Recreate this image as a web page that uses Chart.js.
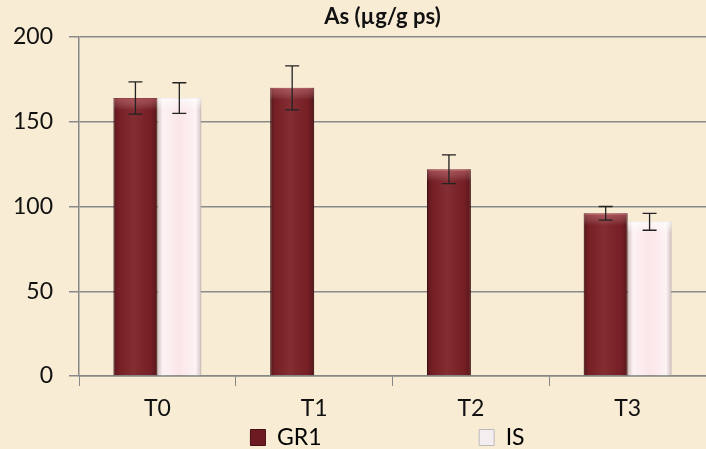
<!DOCTYPE html>
<html>
<head>
<meta charset="utf-8">
<script src="https://cdn.jsdelivr.net/npm/chart.js@4/dist/chart.umd.min.js"></script>
<style>
  html, body { margin: 0; padding: 0; background: #f8ecd4; }
  #wrap { width: 706px; height: 449px; }
</style>
</head>
<body>
<div id="wrap"><canvas id="asChart" width="706" height="449"></canvas></div>
<script>
const labels = ['T0', 'T1', 'T2', 'T3'];
const gr1Values = [164, 170, 122, 96];
const isValues = [164, null, null, 91];
const gr1Errors = [9.5, 13, 8.5, 4];
const isErrors = [9, null, null, 5];
const yTicks = [0, 50, 100, 150, 200];

const FONT = 'Lato, "Open Sans", sans-serif';

// 3D-ish shading on each bar
const barShade = {
    id: 'barShade',
    afterDatasetsDraw(chart) {
        const ctx = chart.ctx;
        chart.data.datasets.forEach((ds, i) => {
            const meta = chart.getDatasetMeta(i);
            meta.data.forEach((bar, j) => {
                if (ds.data[j] == null) return;
                const left = bar.x - bar.width / 2;
                const right = bar.x + bar.width / 2;
                const top = bar.y;
                const bottom = bar.base;
                const g = ctx.createLinearGradient(left, 0, right, 0);
                if (i === 0) {
                    g.addColorStop(0, 'rgba(0,0,0,0.30)');
                    g.addColorStop(0.12, 'rgba(0,0,0,0.05)');
                    g.addColorStop(0.45, 'rgba(255,255,255,0.06)');
                    g.addColorStop(0.85, 'rgba(0,0,0,0.05)');
                    g.addColorStop(1, 'rgba(0,0,0,0.30)');
                } else {
                    g.addColorStop(0, 'rgba(150,140,140,0.35)');
                    g.addColorStop(0.12, 'rgba(255,255,255,0.5)');
                    g.addColorStop(0.5, 'rgba(255,255,255,0)');
                    g.addColorStop(0.88, 'rgba(255,255,255,0.5)');
                    g.addColorStop(1, 'rgba(150,140,140,0.35)');
                }
                ctx.save();
                ctx.fillStyle = g;
                ctx.fillRect(left, top, right - left, bottom - top);
                const t = ctx.createLinearGradient(0, top, 0, top + 12);
                t.addColorStop(0, i === 0 ? 'rgba(255,150,160,0.35)' : 'rgba(255,255,255,0.7)');
                t.addColorStop(1, 'rgba(255,255,255,0)');
                ctx.fillStyle = t;
                ctx.fillRect(left, top, right - left, 12);
                ctx.restore();
            });
        });
    }
};

const errorBars = {
    id: 'errorBars',
    afterDatasetsDraw(chart) {
        const ctx = chart.ctx;
        const y = chart.scales.y;
        const errs = [gr1Errors, isErrors];
        chart.data.datasets.forEach((ds, i) => {
            const meta = chart.getDatasetMeta(i);
            meta.data.forEach((bar, j) => {
                const v = ds.data[j];
                const e = errs[i][j];
                if (v == null || e == null) return;
                const yHi = y.getPixelForValue(v + e);
                const yLo = y.getPixelForValue(v - e);
                const cap = 7;
                ctx.save();
                ctx.strokeStyle = '#222';
                ctx.lineWidth = 1.3;
                ctx.beginPath();
                ctx.moveTo(bar.x, yHi); ctx.lineTo(bar.x, yLo);
                ctx.moveTo(bar.x - cap, yHi); ctx.lineTo(bar.x + cap, yHi);
                ctx.moveTo(bar.x - cap, yLo); ctx.lineTo(bar.x + cap, yLo);
                ctx.stroke();
                ctx.restore();
            });
        });
    }
};

// title and legend sit roughly over the plot area rather than the canvas centre
const shiftBlocks = {
    id: 'shiftBlocks',
    afterLayout(chart) {
        const dx = (chart.chartArea.left + chart.chartArea.right) / 2 - chart.width / 2;
        chart.titleBlock.left += dx - 10;
        chart.titleBlock.right += dx - 10;
        chart.legend.left += dx - 5;
        chart.legend.right += dx - 5;
    }
};

new Chart(document.getElementById('asChart'), {
    type: 'bar',
    data: {
        labels: labels,
        datasets: [
            {
                label: 'GR1',
                data: gr1Values,
                backgroundColor: '#7c2127',
                borderColor: '#5c171b',
                borderWidth: 1,
                categoryPercentage: 0.56,
                barPercentage: 1.0
            },
            {
                label: 'IS',
                data: isValues,
                backgroundColor: '#fbe6e8',
                borderColor: '#c9c2c3',
                borderWidth: 1,
                categoryPercentage: 0.56,
                barPercentage: 1.0
            }
        ]
    },
    options: {
        responsive: false,
        animation: false,
        layout: { padding: { top: 0, left: 0, right: 0, bottom: -10 } },
        plugins: {
            title: {
                display: true,
                text: 'As (µg/g ps)',
                color: '#111',
                font: { family: FONT, size: 22, weight: 'bold' },
                padding: { top: 4, bottom: 6.6 }
            },
            legend: {
                position: 'bottom',
                labels: {
                    color: '#111',
                    font: { family: FONT, size: 23, lineHeight: 1.0 },
                    boxWidth: 15,
                    boxHeight: 16,
                    padding: 2,
                    generateLabels(chart) {
                        return chart.data.datasets.map((ds, i) => ({
                            text: ds.label + (i === 0 ? '\u2003\u2003\u2003\u2003\u2003\u2003\u2003\u2003   ' : ''),
                            fillStyle: i === 0 ? '#6e1a22' : '#f4eef0',
                            strokeStyle: i === 0 ? '#4a0f14' : '#bbb',
                            lineWidth: 1,
                            datasetIndex: i
                        }));
                    }
                }
            },
            tooltip: { enabled: false }
        },
        scales: {
            x: {
                afterFit(scale) { scale.height = 48; },
                grid: {
                    display: true,
                    offset: true,
                    drawOnChartArea: false,
                    drawTicks: true,
                    tickLength: 10,
                    color: '#888'
                },
                border: { color: '#888', width: 1.5 },
                ticks: {
                    color: '#111',
                    font: { family: FONT, size: 23 },
                    padding: 9
                }
            },
            y: {
                min: 0,
                max: 200,
                afterBuildTicks(scale) {
                    scale.ticks = yTicks.map(v => ({ value: v }));
                },
                afterFit(scale) { scale.width = 79; },
                grid: {
                    color: '#8a8a8a',
                    lineWidth: 1.5,
                    tickLength: 10
                },
                border: { color: '#888', width: 1.5 },
                ticks: {
                    color: '#111',
                    font: { family: FONT, size: 23 },
                    padding: 16
                }
            }
        }
    },
    plugins: [barShade, errorBars, shiftBlocks]
});
</script>
</body>
</html>
